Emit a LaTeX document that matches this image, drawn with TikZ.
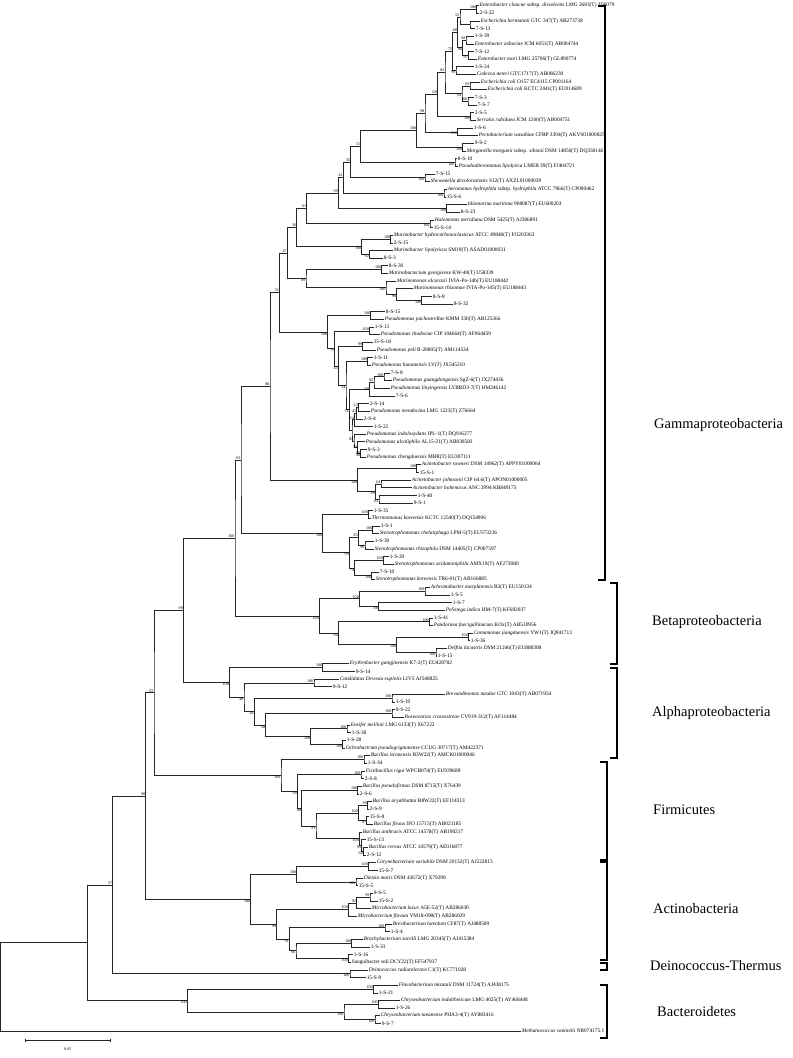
\documentclass[tikz,border=0pt]{standalone}
\usepackage{fontspec}
\setmainfont{Liberation Serif}
\usepackage{tikz}

\begin{document}
\begin{tikzpicture}[x=1pt, y=-7.653pt,
  leaf/.style={anchor=west, inner sep=0.6pt, font=\fontsize{5.35}{6}\selectfont},
  br/.style={draw=black!85, line width=0.45pt},
  bsa/.style={anchor=south east, inner sep=0.3pt, font=\fontsize{4.1}{4.5}\selectfont},
  bsb/.style={anchor=north east, inner sep=0.3pt, font=\fontsize{4.1}{4.5}\selectfont},
  bsl/.style={anchor=east, inner sep=0.3pt, font=\fontsize{4.1}{4.5}\selectfont},
  grp/.style={line width=1.3pt},
  grplabel/.style={anchor=west, inner sep=0pt, font=\fontsize{14.5}{16}\selectfont}]
  \useasboundingbox (0,0.2813) rectangle (793,138.53);

  % taxa
  \node[leaf] (l1) at (479,1) {\textit{Enterobacter cloacae} subsp. \textit{dissolvens} LMG 2683(T) Z96079};
  \node[leaf] (l2) at (479,2) {2-S-22};
  \node[leaf] (l3) at (480,3) {\textit{Escherichia hermannii} GTC 347(T) AB273738};
  \node[leaf] (l4) at (475,4) {7-S-13};
  \node[leaf] (l5) at (474,5) {1-S-39};
  \node[leaf] (l6) at (474,6) {\textit{Enterobacter asburiae} JCM 6051(T) AB004744};
  \node[leaf] (l7) at (474,7) {7-S-12};
  \node[leaf] (l8) at (477,8) {\textit{Enterobacter mori} LMG 25706(T) GL890774};
  \node[leaf] (l9) at (474,9) {1-S-24};
  \node[leaf] (l10) at (476,10) {\textit{Cedecea neteri} GTC1717(T) AB086230};
  \node[leaf] (l11) at (480,11) {\textit{Escherichia coli} O157 EC4115 CP001164};
  \node[leaf] (l12) at (487,12) {\textit{Escherichia coli} KCTC 2441(T) EU014689};
  \node[leaf] (l13) at (474,13) {7-S-3};
  \node[leaf] (l14) at (477,14) {7-S-7};
  \node[leaf] (l15) at (474,15) {2-S-5};
  \node[leaf] (l16) at (476,16) {\textit{Serratia rubidaea} JCM 1240(T) AB004751};
  \node[leaf] (l17) at (473,17) {1-S-6};
  \node[leaf] (l18) at (478,18) {\textit{Pectobacterium wasabiae} CFBP 3304(T) AKVS01000025};
  \node[leaf] (l19) at (474,19) {9-S-2};
  \node[leaf] (l20) at (466,20) {\textit{Morganella morganii} subsp. \textit{sibonii} DSM 14850(T) DQ358146};
  \node[leaf] (l21) at (457,21) {8-S-10};
  \node[leaf] (l22) at (458,22) {\textit{Pseudoalteromonas lipolytica} LMEB 39(T) FJ404721};
  \node[leaf] (l23) at (435,23) {7-S-15};
  \node[leaf] (l24) at (430,24) {\textit{Shewanella decolorationis} S12(T) AXZL01000039};
  \node[leaf] (l25) at (447,25) {\textit{Aeromonas hydrophila} subsp. \textit{hydrophila} ATCC 7966(T) CP000462};
  \node[leaf] (l26) at (446,26) {15-S-6};
  \node[leaf] (l27) at (467,27) {\textit{Idiomarina maritima} 908087(T) EU600203};
  \node[leaf] (l28) at (460,28) {8-S-23};
  \node[leaf] (l29) at (434,29) {\textit{Halomonas meridiana} DSM 5425(T) AJ306891};
  \node[leaf] (l30) at (433,30) {15-S-14};
  \node[leaf] (l31) at (393,31) {\textit{Marinobacter hydrocarbonoclasticus} ATCC 49840(T) FO203363};
  \node[leaf] (l32) at (393,32) {2-S-15};
  \node[leaf] (l33) at (393,33) {\textit{Marinobacter lipolyticus} SM19(T) ASAD01000031};
  \node[leaf] (l34) at (383,34) {8-S-3};
  \node[leaf] (l35) at (388,35) {8-S-30};
  \node[leaf] (l36) at (388,36) {\textit{Marinobacterium georgiense} KW-40(T) U58339};
  \node[leaf] (l37) at (396,37) {\textit{Marinomonas alcarazii} IVIA-Po-14b(T) EU188442};
  \node[leaf] (l38) at (413,38) {\textit{Marinomonas rhizomae} IVIA-Po-145(T) EU188443};
  \node[leaf] (l39) at (432,39) {8-S-8};
  \node[leaf] (l40) at (453,40) {8-S-32};
  \node[leaf] (l41) at (385,41) {8-S-15};
  \node[leaf] (l42) at (384,42) {\textit{Pseudomonas pachastrellae} KMM 330(T) AB125366};
  \node[leaf] (l43) at (374,43) {1-S-13};
  \node[leaf] (l44) at (380,44) {\textit{Pseudomonas rhodesiae} CIP 104664(T) AF064459};
  \node[leaf] (l45) at (373,45) {15-S-18};
  \node[leaf] (l46) at (376,46) {\textit{Pseudomonas peli} R-20805(T) AM114534};
  \node[leaf] (l47) at (373,47) {1-S-11};
  \node[leaf] (l48) at (371,48) {\textit{Pseudomonas hunanensis} LV(T) JX545210};
  \node[leaf] (l49) at (390,49) {7-S-8};
  \node[leaf] (l50) at (392,50) {\textit{Pseudomonas guangdongensis} SgZ-6(T) JX274436};
  \node[leaf] (l51) at (390,51) {\textit{Pseudomonas linyingensis} LYBRD3-7(T) HM246142};
  \node[leaf] (l52) at (395,52) {7-S-6};
  \node[leaf] (l53) at (369,53) {2-S-14};
  \node[leaf] (l54) at (370,54) {\textit{Pseudomonas mendocina} LMG 1223(T) Z76664};
  \node[leaf] (l55) at (363,55) {2-S-4};
  \node[leaf] (l56) at (373,56) {1-S-22};
  \node[leaf] (l57) at (366,57) {\textit{Pseudomonas indoloxydans} IPL-1(T) DQ916277};
  \node[leaf] (l58) at (365,58) {\textit{Pseudomonas alcaliphila} AL15-21(T) AB030583};
  \node[leaf] (l59) at (367,59) {9-S-3};
  \node[leaf] (l60) at (366,60) {\textit{Pseudomonas chengduensis} MBR(T) EU307111};
  \node[leaf] (l61) at (421,61) {\textit{Acinetobacter towneri} DSM 14962(T) APPY01000064};
  \node[leaf] (l62) at (419,62) {15-S-1};
  \node[leaf] (l63) at (411,63) {\textit{Acinetobacter johnsonii} CIP 64.6(T) APON01000005};
  \node[leaf] (l64) at (412,64) {\textit{Acinetobacter bohemicus} ANC 3994 KB849175};
  \node[leaf] (l65) at (417,65) {1-S-40};
  \node[leaf] (l66) at (413,66) {9-S-1};
  \node[leaf] (l67) at (373,67) {1-S-35};
  \node[leaf] (l68) at (371,68) {\textit{Thermomonas koreensis} KCTC 12540(T) DQ154906};
  \node[leaf] (l69) at (380,69) {1-S-1};
  \node[leaf] (l70) at (379,70) {\textit{Stenotrophomonas chelatiphaga} LPM-5(T) EU573216};
  \node[leaf] (l71) at (374,71) {1-S-30};
  \node[leaf] (l72) at (374,72) {\textit{Stenotrophomonas rhizophila} DSM 14405(T) CP007597};
  \node[leaf] (l73) at (389,73) {1-S-20};
  \node[leaf] (l74) at (394,74) {\textit{Stenotrophomonas acidaminiphila} AMX19(T) AF273080};
  \node[leaf] (l75) at (379,75) {7-S-10};
  \node[leaf] (l76) at (375,76) {\textit{Stenotrophomonas koreensis} TR6-01(T) AB166885};
  \node[leaf] (l77) at (430,77) {\textit{Achromobacter marplatensis} B2(T) EU150134};
  \node[leaf] (l78) at (450,78) {1-S-5};
  \node[leaf] (l79) at (452,79) {1-S-7};
  \node[leaf] (l80) at (445,80) {\textit{Pelistega indica} HM-7(T) KF692037};
  \node[leaf] (l81) at (433,81) {1-S-41};
  \node[leaf] (l82) at (433,82) {\textit{Pandoraea faecigallinarum} KOx(T) AB510956};
  \node[leaf] (l83) at (473,83) {\textit{Comamonas jiangduensis} YW1(T) JQ941713};
  \node[leaf] (l84) at (470,84) {1-S-36};
  \node[leaf] (l85) at (447,85) {\textit{Delftia lacustris} DSM 21246(T) EU888308};
  \node[leaf] (l86) at (437,86) {1-S-15};
  \node[leaf] (l87) at (349,87) {\textit{Erythrobacter gangjinensis} K7-2(T) EU428782};
  \node[leaf] (l88) at (355,88) {9-S-14};
  \node[leaf] (l89) at (339,89) {\textit{Candidatus Devosia euplotis} LIV5 AJ548825};
  \node[leaf] (l90) at (332,90) {9-S-12};
  \node[leaf] (l91) at (445,91) {\textit{Brevundimonas nasdae} GTC 1043(T) AB071954};
  \node[leaf] (l92) at (395,92) {1-S-10};
  \node[leaf] (l93) at (395,93) {9-S-22};
  \node[leaf] (l94) at (404,94) {\textit{Roseovarius crassostreae} CV919-312(T) AF114484};
  \node[leaf] (l95) at (350,95) {\textit{Ensifer meliloti} LMG 6133(T) X67222};
  \node[leaf] (l96) at (351,96) {1-S-38};
  \node[leaf] (l97) at (346,97) {1-S-28};
  \node[leaf] (l98) at (345,98) {\textit{Ochrobactrum pseudogrignonense} CCUG 30717(T) AM422371};
  \node[leaf] (l99) at (370,99) {\textit{Bacillus isronensis} B3W22(T) AMCK01000046};
  \node[leaf] (l100) at (367,100) {1-S-34};
  \node[leaf] (l101) at (365,101) {\textit{Fictibacillus rigui} WPCB074(T) EU939689};
  \node[leaf] (l102) at (364,102) {2-S-8};
  \node[leaf] (l103) at (362,103) {\textit{Bacillus pseudofirmus} DSM 8715(T) X76439};
  \node[leaf] (l104) at (359,104) {2-S-6};
  \node[leaf] (l105) at (372,105) {\textit{Bacillus aryabhattai} B8W22(T) EF114313};
  \node[leaf] (l106) at (369,106) {2-S-9};
  \node[leaf] (l107) at (369,107) {15-S-8};
  \node[leaf] (l108) at (373,108) {\textit{Bacillus flexus} IFO 15715(T) AB021185};
  \node[leaf] (l109) at (362,109) {\textit{Bacillus anthracis} ATCC 14578(T) AB190217};
  \node[leaf] (l110) at (366,110) {15-S-13};
  \node[leaf] (l111) at (368,111) {\textit{Bacillus cereus} ATCC 14579(T) AE016877};
  \node[leaf] (l112) at (366,112) {2-S-12};
  \node[leaf] (l113) at (376,113) {\textit{Corynebacterium variabile} DSM 20132(T) AJ222815};
  \node[leaf] (l114) at (378,114) {15-S-7};
  \node[leaf] (l115) at (363,115) {\textit{Dietzia maris} DSM 43672(T) X79290};
  \node[leaf] (l116) at (358,116) {15-S-5};
  \node[leaf] (l117) at (373,117) {9-S-5};
  \node[leaf] (l118) at (378,118) {15-S-2};
  \node[leaf] (l119) at (371,119) {\textit{Microbacterium lacus} A5E-52(T) AB286030};
  \node[leaf] (l120) at (357,120) {\textit{Microbacterium flavum} YM18-098(T) AB286029};
  \node[leaf] (l121) at (392,121) {\textit{Brevibacterium luteolum} CF87(T) AJ488509};
  \node[leaf] (l122) at (390,122) {1-S-4};
  \node[leaf] (l123) at (363,123) {\textit{Brachybacterium sacelli} LMG 20345(T) AJ415384};
  \node[leaf] (l124) at (370,124) {1-S-33};
  \node[leaf] (l125) at (353,125) {1-S-16};
  \node[leaf] (l126) at (351,126) {Sanguibacter soli DCY22(T) EF547937};
  \node[leaf] (l127) at (368,127) {\textit{Deinococcus radiotolerans} C1(T) KC771028};
  \node[leaf] (l128) at (366,128) {15-S-9};
  \node[leaf] (l129) at (398,129) {\textit{Flavobacterium mizutaii} DSM 11724(T) AJ438175};
  \node[leaf] (l130) at (378,130) {1-S-21};
  \node[leaf] (l131) at (400,131) {\textit{Chryseobacterium indoltheticum} LMG 4025(T) AY468448};
  \node[leaf] (l132) at (395,132) {1-S-26};
  \node[leaf] (l133) at (380,133) {\textit{Chryseobacterium taeanense} PHA3-4(T) AY883416};
  \node[leaf] (l134) at (381,134) {9-S-7};
  \node[leaf] (l135) at (521,135) {\textit{Methanococcus vannielii} NR074175.1};

  % inner nodes
  \coordinate (a1) at (476.7,1.5);
  \coordinate (a2) at (470,3.5);
  \coordinate (a3) at (460,2.5);
  \coordinate (a4) at (466,5.5);
  \coordinate (a5) at (468.3,7.5);
  \coordinate (a6) at (462.7,6.5);
  \coordinate (a7) at (457.3,4.5);
  \coordinate (a8) at (456,9.5);
  \coordinate (a9) at (452.7,7);
  \coordinate (a10) at (470,11.5);
  \coordinate (a11) at (468,13.5);
  \coordinate (a12) at (462,12.5);
  \coordinate (a13) at (445,9.75);
  \coordinate (a14) at (470.7,15.5);
  \coordinate (a15) at (437.3,12.625);
  \coordinate (a16) at (457.3,17.5);
  \coordinate (a17) at (425,15.06);
  \coordinate (a18) at (462.7,19.5);
  \coordinate (a19) at (416.7,17.28);
  \coordinate (a20) at (455,21.5);
  \coordinate (n51) at (360.7,19.39);
  \coordinate (a21) at (425,23.5);
  \coordinate (n35) at (350.7,21.445);
  \coordinate (a22) at (444,25.5);
  \coordinate (n41) at (343.3,23.47);
  \coordinate (a23) at (446.7,27.5);
  \coordinate (n99g) at (338.3,25.485);
  \coordinate (a24) at (430,29.5);
  \coordinate (n61) at (306.7,27.49);
  \coordinate (a25) at (390.7,31.5);
  \coordinate (a26) at (369.3,33.5);
  \coordinate (a27) at (361.7,32.5);
  \coordinate (n36) at (296.7,29.995);
  \coordinate (a28) at (381.7,35.5);
  \coordinate (a29) at (421.7,39.5);
  \coordinate (a29b) at (396.7,38.75);
  \coordinate (a30) at (386,37.875);
  \coordinate (a31) at (306,36.69);
  \coordinate (n47) at (287.3,33.34);
  \coordinate (p1) at (370.7,41.5);
  \coordinate (p2) at (369.3,43.5);
  \coordinate (p3) at (362.7,45.5);
  \coordinate (p4) at (367.7,47.5);
  \coordinate (p5) at (384,49.5);
  \coordinate (p6) at (374,50.25);
  \coordinate (p7) at (369.3,51.125);
  \coordinate (u1) at (358.3,53.5);
  \coordinate (u2) at (356.7,54.25);
  \coordinate (u3) at (354.3,55.125);
  \coordinate (t6) at (360.7,59.5);
  \coordinate (t5) at (357.7,58.75);
  \coordinate (t4) at (354,57.875);
  \coordinate (u5) at (352,56.5);
  \coordinate (ps) at (349.3,53.81);
  \coordinate (pr) at (346,50.655);
  \coordinate (pq) at (338.3,48.08);
  \coordinate (prest) at (334.3,45.79);
  \coordinate (pall) at (327.7,43.645);
  \coordinate (n53) at (279.3,38.495);
  \coordinate (b1) at (416.7,61.5);
  \coordinate (b2) at (381,63.5);
  \coordinate (b3) at (379,65.5);
  \coordinate (b4) at (375.3,64.5);
  \coordinate (b0) at (357.7,63);
  \coordinate (n88) at (270,50.75);
  \coordinate (c1) at (368.3,67.5);
  \coordinate (c2) at (372.7,69.5);
  \coordinate (c3) at (365,71.5);
  \coordinate (c4) at (358.3,70.5);
  \coordinate (c5) at (383.3,73.5);
  \coordinate (c6) at (371.7,75.5);
  \coordinate (c7) at (354.7,74.5);
  \coordinate (c8) at (349.3,72.5);
  \coordinate (c9) at (322.7,70);
  \coordinate (n63) at (241,60.375);
  \coordinate (d2) at (425,77.5);
  \coordinate (d3) at (378.3,79.5);
  \coordinate (d1) at (359.3,78.5);
  \coordinate (d5) at (429.3,81.5);
  \coordinate (d6) at (468.3,83.5);
  \coordinate (d7) at (436,85.5);
  \coordinate (d8) at (396.7,84.5);
  \coordinate (d4) at (338.3,83);
  \coordinate (d0) at (319.3,80.75);
  \coordinate (n100) at (235,70.5625);
  \coordinate (e1) at (322.7,87.5);
  \coordinate (e2) at (314,89.5);
  \coordinate (e3) at (392,91.5);
  \coordinate (e4) at (392,93.5);
  \coordinate (e7) at (347,95.5);
  \coordinate (e8) at (342.7,97.5);
  \coordinate (e6) at (310.7,96.5);
  \coordinate (e5) at (265.7,95);
  \coordinate (e9) at (254.3,93.25);
  \coordinate (e10) at (244,91.375);
  \coordinate (alpha) at (229.3,89.4375);
  \coordinate (n99) at (183.3,80);
  \coordinate (f1) at (364,99.5);
  \coordinate (f2) at (361,101.5);
  \coordinate (f3) at (357.7,103.5);
  \coordinate (f4) at (367.3,105.5);
  \coordinate (f5) at (366.7,107.5);
  \coordinate (f6) at (358.3,106.5);
  \coordinate (f7) at (363.3,111.5);
  \coordinate (f8) at (361.7,110.75);
  \coordinate (f9) at (359.3,109.875);
  \coordinate (f10) at (316,108.19);
  \coordinate (f11) at (301.7,105.84);
  \coordinate (f12) at (297.3,103.67);
  \coordinate (firm) at (281,101.585);
  \coordinate (n65) at (154,90.79);
  \coordinate (g1) at (368.3,113.5);
  \coordinate (g2) at (356,115.5);
  \coordinate (g3) at (296.7,114.5);
  \coordinate (g4) at (370,117.5);
  \coordinate (g5) at (356.7,118.25);
  \coordinate (g6) at (348.3,119.125);
  \coordinate (g7) at (385,121.5);
  \coordinate (g8) at (351.7,123.5);
  \coordinate (g9) at (348.3,125.5);
  \coordinate (g10) at (296,124.5);
  \coordinate (g11) at (289.3,123);
  \coordinate (g12) at (276.7,121.06);
  \coordinate (actino) at (250.7,117.78);
  \coordinate (n98) at (145.7,104.285);
  \coordinate (deino) at (350,127.5);
  \coordinate (n57) at (112.7,115.9);
  \coordinate (h1) at (373.3,129.5);
  \coordinate (h2) at (378.3,131.5);
  \coordinate (h3) at (375,133.5);
  \coordinate (h4) at (344,132.5);
  \coordinate (bact) at (187.3,131);
  \coordinate (r1) at (87.3,123.45);
  \coordinate (root) at (0.7,129.2);

  % branches
  \draw[br] (l1.west) -| (a1) |- (l2.west);
  \draw[br] (l3.west) -| (a2) |- (l4.west);
  \draw[br] (a1) -| (a3) |- (a2);
  \draw[br] (l5.west) -| (a4) |- (l6.west);
  \draw[br] (l7.west) -| (a5) |- (l8.west);
  \draw[br] (a4) -| (a6) |- (a5);
  \draw[br] (a3) -| (a7) |- (a6);
  \draw[br] (l9.west) -| (a8) |- (l10.west);
  \draw[br] (a7) -| (a9) |- (a8);
  \draw[br] (l11.west) -| (a10) |- (l12.west);
  \draw[br] (l13.west) -| (a11) |- (l14.west);
  \draw[br] (a10) -| (a12) |- (a11);
  \draw[br] (a9) -| (a13) |- (a12);
  \draw[br] (l15.west) -| (a14) |- (l16.west);
  \draw[br] (a13) -| (a15) |- (a14);
  \draw[br] (l17.west) -| (a16) |- (l18.west);
  \draw[br] (a15) -| (a17) |- (a16);
  \draw[br] (l19.west) -| (a18) |- (l20.west);
  \draw[br] (a17) -| (a19) |- (a18);
  \draw[br] (l21.west) -| (a20) |- (l22.west);
  \draw[br] (a19) -| (n51) |- (a20);
  \draw[br] (l23.west) -| (a21) |- (l24.west);
  \draw[br] (n51) -| (n35) |- (a21);
  \draw[br] (l25.west) -| (a22) |- (l26.west);
  \draw[br] (n35) -| (n41) |- (a22);
  \draw[br] (l27.west) -| (a23) |- (l28.west);
  \draw[br] (n41) -| (n99g) |- (a23);
  \draw[br] (l29.west) -| (a24) |- (l30.west);
  \draw[br] (n99g) -| (n61) |- (a24);
  \draw[br] (l31.west) -| (a25) |- (l32.west);
  \draw[br] (l33.west) -| (a26) |- (l34.west);
  \draw[br] (a25) -| (a27) |- (a26);
  \draw[br] (n61) -| (n36) |- (a27);
  \draw[br] (l35.west) -| (a28) |- (l36.west);
  \draw[br] (l39.west) -| (a29) |- (l40.west);
  \draw[br] (l38.west) -| (a29b) |- (a29);
  \draw[br] (l37.west) -| (a30) |- (a29b);
  \draw[br] (a28) -| (a31) |- (a30);
  \draw[br] (n36) -| (n47) |- (a31);
  \draw[br] (l41.west) -| (p1) |- (l42.west);
  \draw[br] (l43.west) -| (p2) |- (l44.west);
  \draw[br] (l45.west) -| (p3) |- (l46.west);
  \draw[br] (l47.west) -| (p4) |- (l48.west);
  \draw[br] (l49.west) -| (p5) |- (l50.west);
  \draw[br] (p5) -| (p6) |- (l51.west);
  \draw[br] (p6) -| (p7) |- (l52.west);
  \draw[br] (l53.west) -| (u1) |- (l54.west);
  \draw[br] (u1) -| (u2) |- (l55.west);
  \draw[br] (u2) -| (u3) |- (l56.west);
  \draw[br] (l59.west) -| (t6) |- (l60.west);
  \draw[br] (l58.west) -| (t5) |- (t6);
  \draw[br] (l57.west) -| (t4) |- (t5);
  \draw[br] (u3) -| (u5) |- (t4);
  \draw[br] (p7) -| (ps) |- (u5);
  \draw[br] (p4) -| (pr) |- (ps);
  \draw[br] (p3) -| (pq) |- (pr);
  \draw[br] (p2) -| (prest) |- (pq);
  \draw[br] (p1) -| (pall) |- (prest);
  \draw[br] (n47) -| (n53) |- (pall);
  \draw[br] (l61.west) -| (b1) |- (l62.west);
  \draw[br] (l63.west) -| (b2) |- (l64.west);
  \draw[br] (l65.west) -| (b3) |- (l66.west);
  \draw[br] (b2) -| (b4) |- (b3);
  \draw[br] (b1) -| (b0) |- (b4);
  \draw[br] (n53) -| (n88) |- (b0);
  \draw[br] (l67.west) -| (c1) |- (l68.west);
  \draw[br] (l69.west) -| (c2) |- (l70.west);
  \draw[br] (l71.west) -| (c3) |- (l72.west);
  \draw[br] (c2) -| (c4) |- (c3);
  \draw[br] (l73.west) -| (c5) |- (l74.west);
  \draw[br] (l75.west) -| (c6) |- (l76.west);
  \draw[br] (c5) -| (c7) |- (c6);
  \draw[br] (c4) -| (c8) |- (c7);
  \draw[br] (c1) -| (c9) |- (c8);
  \draw[br] (n88) -| (n63) |- (c9);
  \draw[br] (l77.west) -| (d2) |- (l78.west);
  \draw[br] (l79.west) -| (d3) |- (l80.west);
  \draw[br] (d2) -| (d1) |- (d3);
  \draw[br] (l81.west) -| (d5) |- (l82.west);
  \draw[br] (l83.west) -| (d6) |- (l84.west);
  \draw[br] (l85.west) -| (d7) |- (l86.west);
  \draw[br] (d6) -| (d8) |- (d7);
  \draw[br] (d5) -| (d4) |- (d8);
  \draw[br] (d1) -| (d0) |- (d4);
  \draw[br] (n63) -| (n100) |- (d0);
  \draw[br] (l87.west) -| (e1) |- (l88.west);
  \draw[br] (l89.west) -| (e2) |- (l90.west);
  \draw[br] (l91.west) -| (e3) |- (l92.west);
  \draw[br] (l93.west) -| (e4) |- (l94.west);
  \draw[br] (l95.west) -| (e7) |- (l96.west);
  \draw[br] (l97.west) -| (e8) |- (l98.west);
  \draw[br] (e7) -| (e6) |- (e8);
  \draw[br] (e4) -| (e5) |- (e6);
  \draw[br] (e3) -| (e9) |- (e5);
  \draw[br] (e2) -| (e10) |- (e9);
  \draw[br] (e1) -| (alpha) |- (e10);
  \draw[br] (n100) -| (n99) |- (alpha);
  \draw[br] (l99.west) -| (f1) |- (l100.west);
  \draw[br] (l101.west) -| (f2) |- (l102.west);
  \draw[br] (l103.west) -| (f3) |- (l104.west);
  \draw[br] (l105.west) -| (f4) |- (l106.west);
  \draw[br] (l107.west) -| (f5) |- (l108.west);
  \draw[br] (f4) -| (f6) |- (f5);
  \draw[br] (l111.west) -| (f7) |- (l112.west);
  \draw[br] (l110.west) -| (f8) |- (f7);
  \draw[br] (l109.west) -| (f9) |- (f8);
  \draw[br] (f6) -| (f10) |- (f9);
  \draw[br] (f3) -| (f11) |- (f10);
  \draw[br] (f2) -| (f12) |- (f11);
  \draw[br] (f1) -| (firm) |- (f12);
  \draw[br] (n99) -| (n65) |- (firm);
  \draw[br] (l113.west) -| (g1) |- (l114.west);
  \draw[br] (l115.west) -| (g2) |- (l116.west);
  \draw[br] (g1) -| (g3) |- (g2);
  \draw[br] (l117.west) -| (g4) |- (l118.west);
  \draw[br] (g4) -| (g5) |- (l119.west);
  \draw[br] (g5) -| (g6) |- (l120.west);
  \draw[br] (l121.west) -| (g7) |- (l122.west);
  \draw[br] (l123.west) -| (g8) |- (l124.west);
  \draw[br] (l125.west) -| (g9) |- (l126.west);
  \draw[br] (g8) -| (g10) |- (g9);
  \draw[br] (g7) -| (g11) |- (g10);
  \draw[br] (g6) -| (g12) |- (g11);
  \draw[br] (g3) -| (actino) |- (g12);
  \draw[br] (n65) -| (n98) |- (actino);
  \draw[br] (l127.west) -| (deino) |- (l128.west);
  \draw[br] (n98) -| (n57) |- (deino);
  \draw[br] (l129.west) -| (h1) |- (l130.west);
  \draw[br] (l131.west) -| (h2) |- (l132.west);
  \draw[br] (l133.west) -| (h3) |- (l134.west);
  \draw[br] (h2) -| (h4) |- (h3);
  \draw[br] (h1) -| (bact) |- (h4);
  \draw[br] (n57) -| (r1) |- (bact);
  \draw[br] (r1) -| (root) |- (l135.west);

  % bootstrap values
  \node[bsa] at (a1) {100};
  \node[bsa] at (a3) {52};
  \node[bsa] at (a4) {68};
  \node[bsb] at (a5) {97};
  \node[bsb] at (a6) {86};
  \node[bsa] at (a7) {48};
  \node[bsb] at (a8) {99};
  \node[bsa] at (a9) {75};
  \node[bsa] at (a10) {69};
  \node[bsa] at (a11) {100};
  \node[bsb] at (a12) {64};
  \node[bsa] at (a13) {82};
  \node[bsb] at (a14) {100};
  \node[bsa] at (a15) {68};
  \node[bsb] at (a16) {100};
  \node[bsa] at (a17) {98};
  \node[bsb] at (a18) {100};
  \node[bsa] at (a19) {100};
  \node[bsb] at (a20) {100};
  \node[bsa] at (n51) {51};
  \node[bsb] at (a21) {100};
  \node[bsa] at (n35) {35};
  \node[bsb] at (a22) {100};
  \node[bsa] at (n41) {41};
  \node[bsb] at (a23) {100};
  \node[bsa] at (n99g) {99};
  \node[bsb] at (a24) {100};
  \node[bsa] at (n61) {61};
  \node[bsa] at (a25) {100};
  \node[bsb] at (a26) {92};
  \node[bsb] at (a27) {100};
  \node[bsa] at (n36) {36};
  \node[bsa] at (a28) {100};
  \node[bsb] at (a29) {100};
  \node[bsb] at (a29b) {96};
  \node[bsb] at (a30) {100};
  \node[bsb] at (a31) {89};
  \node[bsa] at (n47) {47};
  \node[bsa] at (p1) {100};
  \node[bsa] at (p2) {100};
  \node[bsa] at (p3) {99};
  \node[bsa] at (p4) {100};
  \node[bsa] at (p5) {100};
  \node[bsa] at (p6) {82};
  \node[bsl] at (p7) {99};
  \node[bsa] at (u1) {23};
  \node[bsa] at (u2) {41};
  \node[bsa] at (u3) {24};
  \node[bsa] at (t4) {84};
  \node[bsl] at (t5) {53};
  \node[bsl] at (t6) {80};
  \node[bsb] at (t6) {98};
  \node[bsb] at (ps) {51};
  \node[bsb] at (pr) {54};
  \node[bsb] at (pq) {43};
  \node[bsb] at (prest) {79};
  \node[bsb] at (pall) {100};
  \node[bsa] at (n53) {53};
  \node[bsa] at (b1) {100};
  \node[bsa] at (b2) {64};
  \node[bsb] at (b3) {62};
  \node[bsb] at (b4) {99};
  \node[bsb] at (b0) {100};
  \node[bsa] at (n88) {88};
  \node[bsa] at (c1) {100};
  \node[bsa] at (c2) {100};
  \node[bsb] at (c3) {96};
  \node[bsa] at (c4) {83};
  \node[bsa] at (c5) {100};
  \node[bsb] at (c6) {100};
  \node[bsb] at (c7) {74};
  \node[bsb] at (c8) {99};
  \node[bsb] at (c9) {100};
  \node[bsa] at (n63) {63};
  \node[bsa] at (d2) {100};
  \node[bsb] at (d3) {88};
  \node[bsa] at (d1) {100};
  \node[bsa] at (d5) {100};
  \node[bsa] at (d6) {100};
  \node[bsb] at (d7) {100};
  \node[bsb] at (d8) {100};
  \node[bsb] at (d4) {94};
  \node[bsb] at (d0) {100};
  \node[bsa] at (n100) {100};
  \node[bsa] at (e1) {100};
  \node[bsa] at (e2) {100};
  \node[bsa] at (e3) {100};
  \node[bsa] at (e4) {100};
  \node[bsa] at (e7) {100};
  \node[bsb] at (e8) {100};
  \node[bsb] at (e6) {100};
  \node[bsb] at (e5) {58};
  \node[bsb] at (e9) {44};
  \node[bsb] at (e10) {48};
  \node[bsb] at (alpha) {100};
  \node[bsa] at (n99) {99};
  \node[bsa] at (f1) {100};
  \node[bsa] at (f2) {100};
  \node[bsa] at (f3) {100};
  \node[bsa] at (f4) {99};
  \node[bsb] at (f5) {97};
  \node[bsa] at (f6) {100};
  \node[bsb] at (f7) {68};
  \node[bsb] at (f8) {95};
  \node[bsb] at (f9) {100};
  \node[bsb] at (f10) {91};
  \node[bsb] at (f11) {48};
  \node[bsb] at (f12) {90};
  \node[bsb] at (firm) {100};
  \node[bsa] at (n65) {65};
  \node[bsa] at (g1) {100};
  \node[bsb] at (g2) {100};
  \node[bsa] at (g3) {100};
  \node[bsa] at (g4) {99};
  \node[bsa] at (g5) {92};
  \node[bsa] at (g6) {100};
  \node[bsa] at (g7) {100};
  \node[bsa] at (g8) {100};
  \node[bsb] at (g9) {100};
  \node[bsb] at (g10) {66};
  \node[bsb] at (g11) {91};
  \node[bsb] at (g12) {99};
  \node[bsb] at (actino) {100};
  \node[bsa] at (n98) {98};
  \node[bsb] at (deino) {100};
  \node[bsa] at (n57) {57};
  \node[bsa] at (h1) {100};
  \node[bsa] at (h2) {100};
  \node[bsb] at (h3) {100};
  \node[bsb] at (h4) {100};
  \node[bsb] at (bact) {100};

  % groups
  \draw[grp] (598,1.07) -- (605,1.07) -- (605,76.07) -- (598,76.07);
  \draw[grp] (610,76.46) -- (617,76.46) -- (617,87.05) -- (610,87.05);
  \draw[grp] (610,87.57) -- (617,87.57) -- (617,99.33) -- (610,99.33);
  \draw[grp] (600,99.85) -- (607,99.85) -- (607,112.66) -- (600,112.66);
  \draw[grp] (600,112.92) -- (607,112.92) -- (607,125.72) -- (600,125.72);
  \draw[grp] (600,126.12) -- (607,126.12) -- (607,127.04) -- (600,127.04);
  \draw[grp] (600,128.99) -- (607,128.99) -- (607,135.92) -- (600,135.92);
  \node[grplabel] (gamma) at (654,55.8) {Gammaproteobacteria};
  \node[grplabel] (beta) at (652,81.5) {Betaproteobacteria};
  \node[grplabel] (alphal) at (652,93.45) {Alphaproteobacteria};
  \node[grplabel] (firml) at (653,106.1) {Firmicutes};
  \node[grplabel] (actinol) at (653,119.05) {Actinobacteria};
  \node[grplabel] (deinol) at (650,126.5) {Deinococcus-Thermus};
  \node[grplabel] (bactl) at (657,132.5) {Bacteroidetes};

  % scale
  \coordinate (sbl) at (25,136.2);
  \coordinate (sbr) at (110,136.2);
  \draw[br] (sbl) -- (sbr);
  \draw[br] ([yshift=1.5pt]sbl) -- ([yshift=-1.5pt]sbl);
  \draw[br] ([yshift=1.5pt]sbr) -- ([yshift=-1.5pt]sbr);
  \node[font=\fontsize{4}{5}\selectfont] (sbtext) at (67.5,137.4) {0.05};
\end{tikzpicture}
\end{document}
